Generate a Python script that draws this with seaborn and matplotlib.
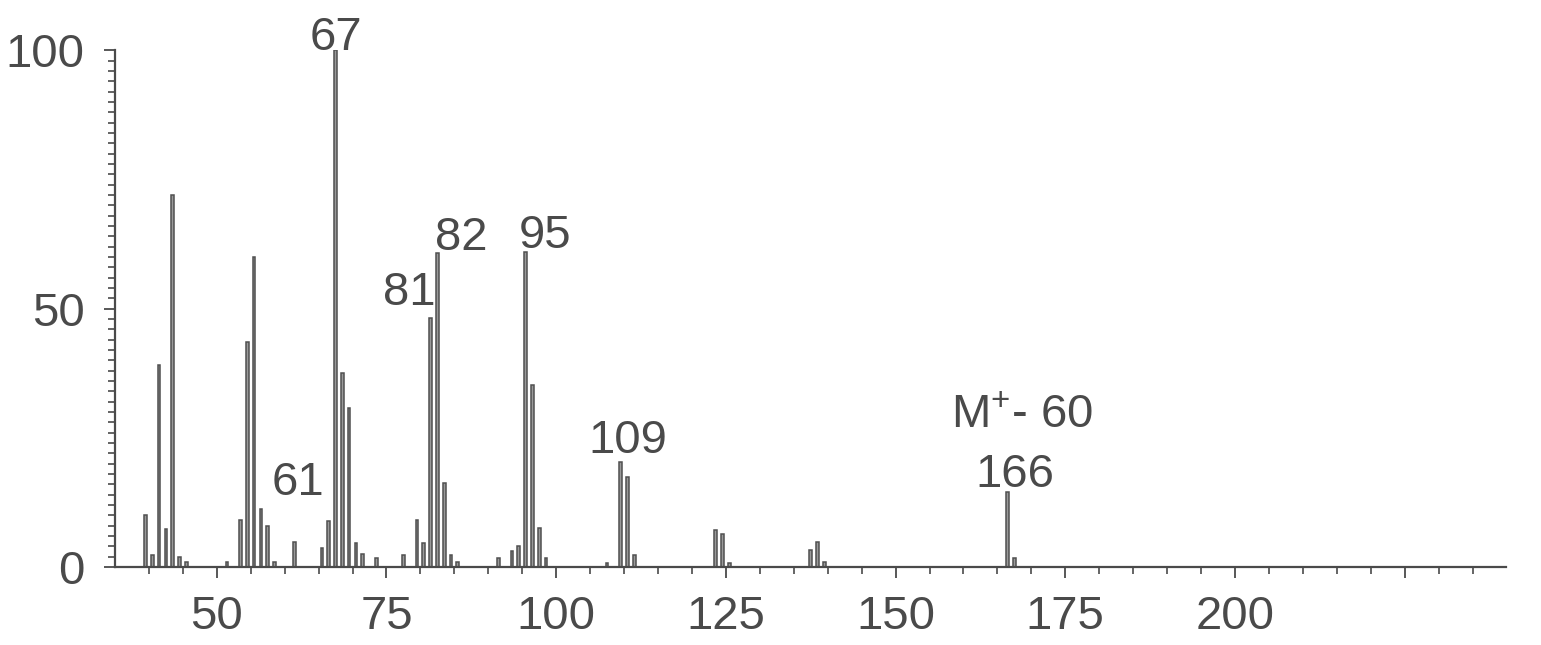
import pandas as pd
import matplotlib
matplotlib.use("Agg")
import matplotlib.pyplot as plt
import seaborn as sns
from matplotlib.ticker import MultipleLocator, FixedLocator

# mass spectrum peaks (m/z, relative intensity %)
mz = [39, 40, 41, 42, 43, 44, 45, 51, 53, 54, 55, 56, 57, 58, 61,
      65, 66, 67, 68, 69, 70, 71, 73, 77, 79, 80, 81, 82, 83, 84, 85,
      91, 93, 94, 95, 96, 97, 98, 107, 109, 110, 111,
      123, 124, 125, 137, 138, 139, 166, 167]
intensity = [10, 2.3, 39, 7.3, 72, 2, 1, 1, 9.1, 43.5, 60, 11.2, 8, 1, 4.9,
             3.6, 8.9, 100, 37.6, 30.7, 4.7, 2.5, 1.8, 2.3, 9.1, 4.6, 48.2, 60.7, 16.2, 2.3, 1,
             1.7, 3, 4, 61, 35.2, 7.5, 1.7, 0.8, 20.3, 17.5, 2.3,
             7.2, 6.4, 0.8, 3.3, 4.9, 1, 14.6, 1.7]

# peak labels: text, x, y (baseline)
label_text = ["67", "81", "82", "95", "61", "109", "166", "M$^{+}$- 60"]
label_x = [67.5, 78.3, 86.0, 98.3, 61.9, 110.6, 167.6, 168.6]
label_y = [100.0, 50.7, 61.3, 61.7, 13.9, 22.1, 15.5, 26.9]

df = pd.DataFrame({"mz": mz, "intensity": intensity})

sns.set_style("white")
plt.rcParams["font.family"] = ["Liberation Sans", "DejaVu Sans"]
plt.rcParams["mathtext.default"] = "regular"

ink = "#4a4a4a"

fig = plt.figure(figsize=(15.41, 6.45), dpi=100)
ax = fig.add_axes([0.0746, 0.121, 0.903, 0.801])

# unit-wide bins starting on whole m/z values
sns.histplot(data=df, x="mz", weights="intensity", binwidth=1, binrange=(35, 240),
             shrink=0.4, color="#9a9a9a", edgecolor="#505050", linewidth=1.1,
             alpha=1, ax=ax)

for t, x, y in zip(label_text, label_x, label_y):
    ax.text(x, y, t, ha="center", va="baseline", fontsize=34, color=ink)

ax.set_xlim(35, 240)
ax.set_ylim(0, 100)
ax.set_xlabel("")
ax.set_ylabel("")

ax.xaxis.set_major_locator(FixedLocator([50, 75, 100, 125, 150, 175, 200, 225]))
ax.set_xticklabels(["50", "75", "100", "125", "150", "175", "200", ""])
ax.xaxis.set_minor_locator(FixedLocator(list(range(40, 240, 5))))
ax.yaxis.set_major_locator(FixedLocator([0, 50, 100]))
ax.yaxis.set_minor_locator(MultipleLocator(2))

ax.tick_params(axis="both", which="major", direction="out", length=8, width=1.3,
               color=ink, labelsize=34, labelcolor=ink)
ax.tick_params(axis="both", which="minor", direction="out", length=5, width=1.2,
               color=ink)
ax.tick_params(axis="x", which="major", pad=12)
ax.tick_params(axis="y", which="major", pad=14)
ax.tick_params(left=True, bottom=True, which="both")

sns.despine(ax=ax)
for s in ["left", "bottom"]:
    ax.spines[s].set_color(ink)
    ax.spines[s].set_linewidth(1.6)

fig.savefig("out.png", dpi=100)
